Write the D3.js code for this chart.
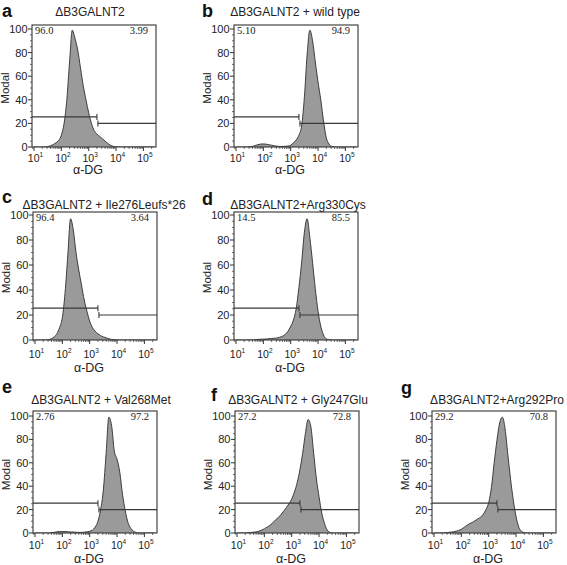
<!DOCTYPE html>
<html><head><meta charset="utf-8">
<script src="https://cdn.jsdelivr.net/npm/d3@7"></script>
<style>body{margin:0;background:#fff} svg{display:block}</style>
</head><body><svg id="chart" width="567" height="565"></svg>
<script>
// ---------- data ----------
const binExponents = [1.0,1.1,1.2,1.3,1.4,1.5,1.6,1.7,1.8,1.9,2.0,2.1,2.2,2.3,2.4,2.5,2.6,2.7,2.8,2.9,3.0,3.1,3.2,3.3,3.4,3.5,3.6,3.7,3.8,3.9,4.0,4.1,4.2,4.3,4.4,4.5,4.6,4.7,4.8,4.9,5.0,5.1,5.2,5.3,5.4];
const panelLetters = ["a","b","c","d","e","f","g"];
const panelTitles = ["ΔB3GALNT2","ΔB3GALNT2 + wild type","ΔB3GALNT2 + Ile276Leufs*26","ΔB3GALNT2+Arg330Cys","ΔB3GALNT2 + Val268Met","ΔB3GALNT2 + Gly247Glu","ΔB3GALNT2+Arg292Pro"];
const leftPercents = ["96.0","5.10","96.4","14.5","2.76","27.2","29.2"];
const rightPercents = ["3.99","94.9","3.64","85.5","97.2","72.8","70.8"];
const countsA = [0,0,0,0,0,0.3,1,2,3.5,5.5,10,20,40,72,99,92,82,67,52,40,29,20,14,11,9,7,5,3,1.5,0.5,0.1,0,0,0,0,0,0,0,0,0,0,0,0,0,0];
const countsB = [0,0,0,0,0,0.2,0.5,1.2,2,2.5,2.6,2.4,2.0,1.5,1.0,0.7,0.5,0.5,0.6,0.8,1.5,3.5,6,10,18,42,78,99,90,72,55,40,22,8,2.5,0.5,0,0,0,0,0,0,0,0,0];
const countsC = [0,0,0,0,0,0.3,1,2.5,5,10,18,38,68,97,88,70,56,44,32,23,15,10,7,5,3.5,2.5,1.8,1,0.5,0.2,0,0,0,0,0,0,0,0,0,0,0,0,0,0,0];
const countsD = [0,0,0,0,0,0,0,0.3,0.5,0.6,0.7,0.8,1.0,1.2,1.4,1.6,2.2,3.0,4.5,7,11,16,25,42,62,86,97,82,62,41,23,11,4,1,0.2,0,0,0,0,0,0,0,0,0,0];
const countsE = [0,0,0,0,0,0,0.3,0.6,1.0,1.2,1.2,1.2,1.0,0.9,0.8,0.6,0.5,0.5,0.7,1.0,1.5,2.5,5,10,20,37,68,99,92,70,63,52,33,19,9,4,1.5,0.5,0,0,0,0,0,0,0];
const countsF = [0,0,0,0,0.2,0.4,0.7,1.0,1.5,2.5,3.5,5,6.5,8.5,11,13,15.5,18.5,21.5,25,29,35,43,54,68,85,97,91,69,47,31,17,8,2.5,0.5,0,0,0,0,0,0,0,0,0,0];
const countsG = [0,0,0,0,0.2,0.4,0.7,1.0,1.5,2.2,3.2,4.8,6.5,8,9,10.5,12,13.5,16,20,26,39,60,79,94,99,89,67,46,28,14,5,1.5,0.3,0,0,0,0,0,0,0,0,0,0,0];
const panelCounts = [countsA,countsB,countsC,countsD,countsE,countsF,countsG];
const gateSplit = 2000;
const gateLeftLevel = 25.5;
const gateRightLevel = 20;
const xTickExponents = [1,2,3,4,5];
const yTickValues = [0,20,40,60,80,100];

// ---------- layout ----------
const W = 124;
const rows = [
  {top:25,  y100:29,  y0:147, tickLab:162, axisLab:174, title:15.5},
  {top:212, y100:215, y0:340, tickLab:358, axisLab:371.5, title:208.5},
  {top:411, y100:416, y0:533, tickLab:549, axisLab:562.5, title:404}
];
const layout = [
  {row:0, x:32,  titleX:90,  letterX:2,   letterY:16.5},
  {row:0, x:234, titleX:295, letterX:202, letterY:16.5},
  {row:1, x:33,  titleX:104, letterX:2,   letterY:203},
  {row:1, x:234, titleX:298, letterX:202, letterY:205},
  {row:2, x:33,  titleX:101, letterX:2,   letterY:393},
  {row:2, x:235, titleX:298, letterX:211, letterY:401},
  {row:2, x:432, titleX:497, letterX:401, letterY:394}
];

const svg = d3.select("#chart");
svg.append("rect").attr("width",567).attr("height",565).attr("fill","#fff");
const SANS = "'Liberation Sans', Arial, sans-serif";
const SERIF = "'Liberation Serif', 'Times New Roman', serif";
const ink = "#222";

layout.forEach((L, i) => {
  const R = rows[L.row];
  const g = svg.append("g").attr("transform", `translate(${L.x},0)`);
  const x = d3.scaleLog().domain([8.45, 289000]).range([0, W]);
  const y = d3.scaleLinear().domain([0, 100]).range([R.y0, R.y100]);
  const H = R.y0 - R.top;

  const cid = "clip" + i;
  g.append("clipPath").attr("id", cid).append("rect")
    .attr("x", 0).attr("y", R.top).attr("width", W).attr("height", H);

  const pts = binExponents.map((e, k) => ({e, v: panelCounts[i][k]}));
  const area = d3.area().x(d => x(Math.pow(10, d.e))).y0(y(0)).y1(d => y(d.v)).curve(d3.curveMonotoneX);
  const line = d3.line().x(d => x(Math.pow(10, d.e))).y(d => y(d.v)).curve(d3.curveMonotoneX);
  const cg = g.append("g").attr("clip-path", `url(#${cid})`);
  cg.append("path").attr("d", area(pts)).attr("fill", "#9a9a9a");
  cg.append("path").attr("d", line(pts)).attr("fill", "none").attr("stroke", "#2e2e2e").attr("stroke-width", 0.9);

  // gates
  const sx = x(gateSplit);
  const gl = y(gateLeftLevel), gr = y(gateRightLevel);
  const gate = g.append("g").attr("stroke", "#383838").attr("stroke-width", 1.1).attr("fill", "none");
  gate.append("line").attr("x1", 0).attr("x2", sx).attr("y1", gl).attr("y2", gl);
  gate.append("line").attr("x1", sx).attr("x2", sx).attr("y1", gl - 3).attr("y2", gl + 3);
  gate.append("line").attr("x1", sx + 1).attr("x2", W).attr("y1", gr).attr("y2", gr);
  gate.append("line").attr("x1", sx + 1).attr("x2", sx + 1).attr("y1", gr - 3).attr("y2", gr + 3);

  // box
  g.append("rect").attr("x", 0).attr("y", R.top).attr("width", W).attr("height", H)
    .attr("fill", "none").attr("stroke", "#333").attr("stroke-width", 1.1);

  // y ticks
  const yMinor = d3.range(0, 101, 5).filter(v => v % 20 !== 0);
  g.selectAll(".ym").data(yMinor).join("line")
    .attr("x1", -2).attr("x2", 0).attr("y1", d => y(d)).attr("y2", d => y(d))
    .attr("stroke", "#333").attr("stroke-width", 0.7);
  g.selectAll(".yM").data(yTickValues).join("line")
    .attr("x1", -4).attr("x2", 0).attr("y1", d => y(d)).attr("y2", d => y(d))
    .attr("stroke", "#333").attr("stroke-width", 1);
  g.selectAll(".yl").data(yTickValues).join("text")
    .attr("x", -4.5).attr("y", d => y(d)).attr("dy", "0.36em").attr("text-anchor", "end")
    .attr("font-family", SANS).attr("font-size", 11).attr("fill", ink).text(d => d);

  // x ticks
  const xMinor = [];
  for (let d = 0; d <= 5; d++) for (let k = 2; k <= 9; k++) {
    const v = k * Math.pow(10, d);
    if (v > 8.45 && v < 289000) xMinor.push(v);
  }
  g.selectAll(".xm").data(xMinor).join("line")
    .attr("x1", d => x(d)).attr("x2", d => x(d)).attr("y1", R.y0).attr("y2", R.y0 + 2)
    .attr("stroke", "#333").attr("stroke-width", 0.7);
  g.selectAll(".xM").data(xTickExponents).join("line")
    .attr("x1", d => x(Math.pow(10, d))).attr("x2", d => x(Math.pow(10, d)))
    .attr("y1", R.y0).attr("y2", R.y0 + 4)
    .attr("stroke", "#333").attr("stroke-width", 1);
  const xl = g.selectAll(".xl").data(xTickExponents).join("text")
    .attr("x", d => x(Math.pow(10, d)) + 1.5).attr("y", R.tickLab).attr("text-anchor", "middle")
    .attr("font-family", SANS).attr("font-size", 10.5).attr("fill", ink);
  xl.append("tspan").text("10");
  xl.append("tspan").attr("dy", -5).attr("font-size", 6.5).text(d => d);

  // axis titles
  g.append("text").attr("x", W / 2 - 6).attr("y", R.axisLab).attr("text-anchor", "middle")
    .attr("font-family", SANS).attr("font-size", 12.5).attr("fill", ink).text("α-DG");
  g.append("text").attr("transform", `translate(-23,${(y(0) + y(100)) / 2}) rotate(-90)`)
    .attr("text-anchor", "middle").attr("font-family", SANS).attr("font-size", 11.5)
    .attr("fill", ink).text("Modal");

  // percentages
  g.append("text").attr("x", 3).attr("y", R.top + 9).attr("font-family", SERIF)
    .attr("font-size", 10.5).attr("fill", ink).text(leftPercents[i]);
  g.append("text").attr("x", W - 8).attr("y", R.top + 9).attr("text-anchor", "end")
    .attr("font-family", SERIF).attr("font-size", 10.5).attr("fill", ink).text(rightPercents[i]);

  // title and letter
  svg.append("text").attr("x", L.titleX).attr("y", R.title).attr("text-anchor", "middle")
    .attr("font-family", SANS).attr("font-size", 12).attr("fill", ink).text(panelTitles[i]);
  svg.append("text").attr("x", L.letterX).attr("y", L.letterY)
    .attr("font-family", SANS).attr("font-weight", "bold").attr("font-size", 18)
    .attr("fill", "#111").text(panelLetters[i]);
});
</script>
</body></html>
